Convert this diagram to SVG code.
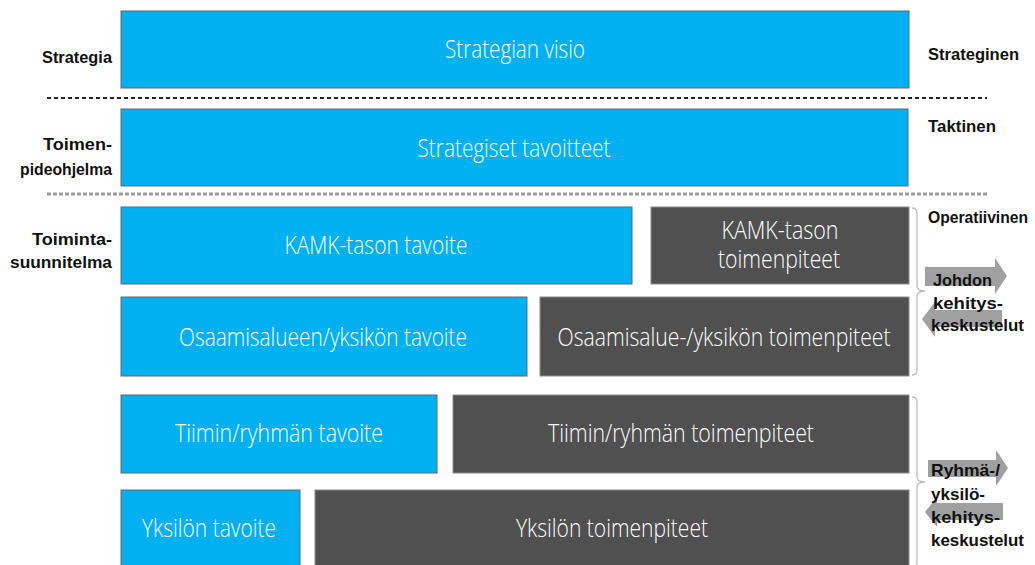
<svg xmlns="http://www.w3.org/2000/svg" width="1035" height="565" viewBox="0 0 1035 565">
<style>
.blue{fill:#00B0F0;stroke:#5f6b73;stroke-width:1}
.dark{fill:#505050;stroke:#8c8c8c;stroke-width:1}
.bt{font-family:"Open Sans","Liberation Sans",sans-serif;font-weight:300;font-size:25px;fill:#ffffff;text-anchor:middle}
.lbl{font-family:"Liberation Sans","Open Sans",sans-serif;font-weight:bold;font-size:17px;fill:#111111}
.lblL{text-anchor:end}
.arrow{fill:#a0a0a0}
.brace{fill:none;stroke:#bdbdbd;stroke-width:1.3}
</style>
<rect width="1035" height="565" fill="#ffffff"/>
<g id="connectors">
  <line x1="47" y1="98" x2="987" y2="98" stroke="#222" stroke-width="2" stroke-dasharray="4,3"/>
  <line x1="47" y1="194" x2="987" y2="194" stroke="#9a9a9a" stroke-width="3" stroke-dasharray="4,2"/>
  <path class="brace" d="M912,208 Q917,208 917,213 L917,286 Q917,291 925,291 Q917,291 917,296 L917,370 Q917,375 912,375"/>
  <path class="brace" d="M912,397 Q917,397 917,402 L917,477 Q917,482 925,482 Q917,482 917,487 L917,562 Q917,567 912,567"/>
  <polygon class="arrow" points="925,267 995,267 995,258 1007,276 995,294 995,286 925,286"/>
  <polygon class="arrow" points="1002,310 935,310 935,302 922,319 935,337 935,327 1002,327"/>
  <polygon class="arrow" points="928,460 996,460 996,450 1008,468 996,486 996,477 928,477"/>
  <polygon class="arrow" points="1003,503 937,503 937,497 925,512 937,527 937,520 1003,520"/>
</g>
<g id="strategian-visio">
  <rect class="blue" x="121" y="11" width="788" height="77"/>
  <text class="bt" x="515" y="58" textLength="140" lengthAdjust="spacingAndGlyphs">Strategian visio</text>
</g>
<g id="strategiset-tavoitteet">
  <rect class="blue" x="121" y="109" width="787" height="77"/>
  <text class="bt" x="514" y="157" textLength="193" lengthAdjust="spacingAndGlyphs">Strategiset tavoitteet</text>
</g>
<g id="kamk-tavoite">
  <rect class="blue" x="121" y="207" width="511" height="77"/>
  <text class="bt" x="376" y="254" textLength="183" lengthAdjust="spacingAndGlyphs">KAMK-tason tavoite</text>
</g>
<g id="kamk-toimenpiteet">
  <rect class="dark" x="651" y="207" width="258" height="77"/>
  <text class="bt" x="780" y="239" textLength="117" lengthAdjust="spacingAndGlyphs">KAMK-tason</text>
  <text class="bt" x="779" y="268" textLength="122" lengthAdjust="spacingAndGlyphs">toimenpiteet</text>
</g>
<g id="osaamisalue-tavoite">
  <rect class="blue" x="121" y="297" width="406" height="79"/>
  <text class="bt" x="323" y="346" textLength="288" lengthAdjust="spacingAndGlyphs">Osaamisalueen/yksikön tavoite</text>
</g>
<g id="osaamisalue-toimenpiteet">
  <rect class="dark" x="540" y="297" width="369" height="79"/>
  <text class="bt" x="724" y="346" textLength="333" lengthAdjust="spacingAndGlyphs">Osaamisalue-/yksikön toimenpiteet</text>
</g>
<g id="tiimi-tavoite">
  <rect class="blue" x="121" y="395" width="316" height="78"/>
  <text class="bt" x="279" y="442" textLength="208" lengthAdjust="spacingAndGlyphs">Tiimin/ryhmän tavoite</text>
</g>
<g id="tiimi-toimenpiteet">
  <rect class="dark" x="453" y="395" width="456" height="78"/>
  <text class="bt" x="681" y="442" textLength="266" lengthAdjust="spacingAndGlyphs">Tiimin/ryhmän toimenpiteet</text>
</g>
<g id="yksilo-tavoite">
  <rect class="blue" x="121" y="490" width="179" height="80"/>
  <text class="bt" x="209" y="537" textLength="134" lengthAdjust="spacingAndGlyphs">Yksilön tavoite</text>
</g>
<g id="yksilo-toimenpiteet">
  <rect class="dark" x="315" y="490" width="594" height="80"/>
  <text class="bt" x="612" y="537" textLength="192" lengthAdjust="spacingAndGlyphs">Yksilön toimenpiteet</text>
</g>
<g id="left-labels">
  <text class="lbl lblL" x="112" y="63" textLength="70" lengthAdjust="spacingAndGlyphs">Strategia</text>
  <text class="lbl lblL" x="112" y="150" textLength="69" lengthAdjust="spacingAndGlyphs">Toimen-</text>
  <text class="lbl lblL" x="112" y="175" textLength="92" lengthAdjust="spacingAndGlyphs">pideohjelma</text>
  <text class="lbl lblL" x="112" y="245" textLength="80" lengthAdjust="spacingAndGlyphs">Toiminta-</text>
  <text class="lbl lblL" x="112" y="268" textLength="102" lengthAdjust="spacingAndGlyphs">suunnitelma</text>
</g>
<g id="right-labels">
  <text class="lbl" x="928" y="60" textLength="91" lengthAdjust="spacingAndGlyphs">Strateginen</text>
  <text class="lbl" x="928" y="132" textLength="68" lengthAdjust="spacingAndGlyphs">Taktinen</text>
  <text class="lbl" x="928" y="223" textLength="100" lengthAdjust="spacingAndGlyphs">Operatiivinen</text>
  <text class="lbl" x="933" y="286" textLength="59" lengthAdjust="spacingAndGlyphs">Johdon</text>
  <text class="lbl" x="933" y="309" textLength="70" lengthAdjust="spacingAndGlyphs">kehitys-</text>
  <text class="lbl" x="931" y="331" textLength="93" lengthAdjust="spacingAndGlyphs">keskustelut</text>
  <text class="lbl" x="931" y="476" textLength="69" lengthAdjust="spacingAndGlyphs">Ryhmä-/</text>
  <text class="lbl" x="931" y="500" textLength="54" lengthAdjust="spacingAndGlyphs">yksilö-</text>
  <text class="lbl" x="931" y="523" textLength="69" lengthAdjust="spacingAndGlyphs">kehitys-</text>
  <text class="lbl" x="931" y="546" textLength="93" lengthAdjust="spacingAndGlyphs">keskustelut</text>
</g>
</svg>
